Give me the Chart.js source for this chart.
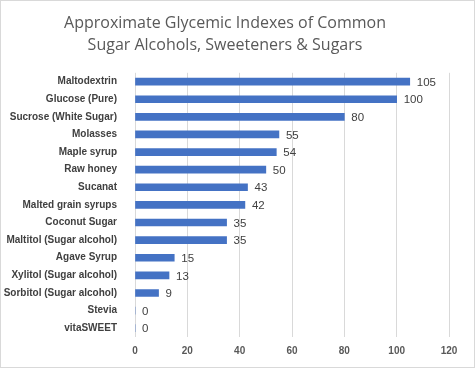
<!DOCTYPE html>
<html><head><meta charset="utf-8">
<script src="https://cdn.jsdelivr.net/npm/chart.js"></script>
<style>
html,body{margin:0;padding:0;background:#fff;}
#wrap{width:473px;height:366px;border:1px solid #d9d9d9;}
</style></head>
<body><div id="wrap"><canvas id="c" width="473" height="366"></canvas></div>
<script>
const titleLines = ["Approximate Glycemic Indexes of Common", "Sugar Alcohols, Sweeteners & Sugars"];
const categories = ["Maltodextrin","Glucose (Pure)","Sucrose (White Sugar)","Molasses","Maple syrup","Raw honey","Sucanat","Malted grain syrups","Coconut Sugar","Maltitol (Sugar alcohol)","Agave Syrup","Xylitol (Sugar alcohol)","Sorbitol (Sugar alcohol)","Stevia","vitaSWEET"];
const giValues = [105,100,80,55,54,50,43,42,35,35,15,13,9,0,0];
const xTicks = [0,20,40,60,80,100,120];

const labelPlugin = {
  id:'valueLabels',
  afterDatasetsDraw(chart){
    const ctx = chart.ctx;
    const meta = chart.getDatasetMeta(0);
    ctx.save();
    ctx.font = '11.5px "Liberation Sans", Arial, sans-serif';
    ctx.fillStyle = '#404040';
    ctx.textAlign = 'left';
    ctx.textBaseline = 'middle';
    meta.data.forEach((el,i)=>{
      ctx.fillText(String(giValues[i]), el.x + 7, el.y + 1);
    });
    ctx.restore();
  }
};

new Chart(document.getElementById('c'), {
  type:'bar',
  data:{labels:categories, datasets:[{data:giValues, backgroundColor:'#4472C4', barThickness:7}]},
  options:{
    indexAxis:'y', responsive:false, animation:false,
    layout:{padding:{left:0,right:25,top:0,bottom:2}},
    plugins:{
      legend:{display:false}, tooltip:{enabled:false},
      title:{display:true, text:titleLines, color:'#595959',
        font:{family:'"Open Sans", sans-serif', size:16, weight:'normal', lineHeight:1.4},
        padding:{top:11,bottom:16}}
    },
    scales:{
      x:{min:0,max:120, afterBuildTicks(s){s.ticks = xTicks.map(v=>({value:v}));},
        grid:{color:'#d9d9d9', drawTicks:false}, border:{display:false},
        ticks:{color:'#595959', padding:8, font:{family:'"Liberation Sans", Arial, sans-serif', size:10, weight:'bold'}}},
      y:{grid:{display:false}, border:{display:false},
        afterFit(s){s.width = 134;},
        ticks:{color:'#404040', padding:10, font:{family:'"Liberation Sans", Arial, sans-serif', size:10, weight:'bold'}}}
    }
  },
  plugins:[labelPlugin]
});
</script></body></html>
